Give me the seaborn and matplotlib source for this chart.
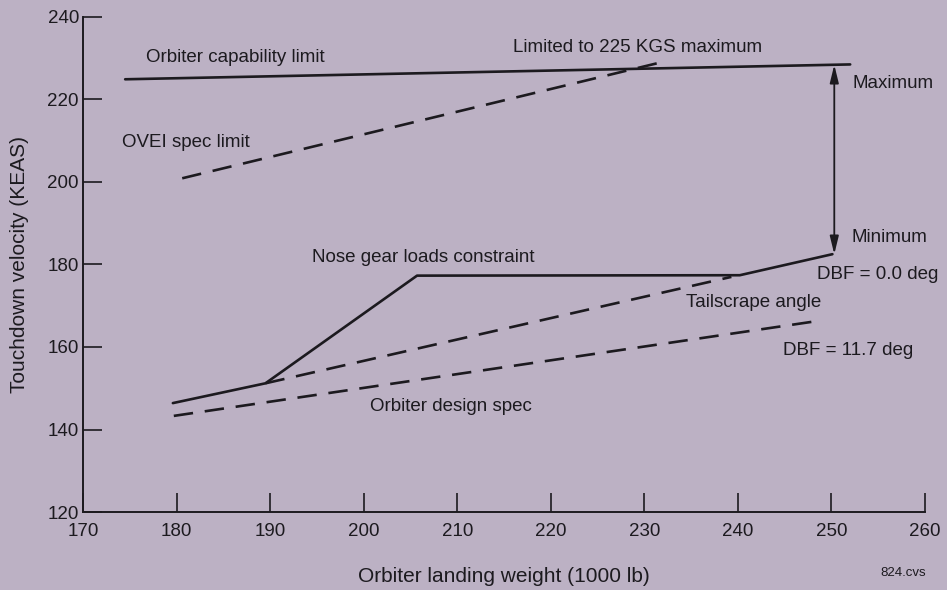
import matplotlib
matplotlib.use("Agg")
import matplotlib.pyplot as plt
import seaborn as sns
import pandas as pd

# ---- data ----
capability_x = [174.5, 252.0]
capability_y = [224.9, 228.5]

ovei_x = [180.6, 231.4]
ovei_y = [200.9, 228.8]

nose_x = [179.6, 189.5, 205.7, 240.2, 250.1]
nose_y = [146.4, 151.2, 177.3, 177.4, 182.5]

tail_dbf0_x = [189.5, 239.3]
tail_dbf0_y = [151.2, 177.0]

design_x = [179.7, 247.9]
design_y = [143.3, 166.1]

arrow_x = 250.3
arrow_top = 228.4
arrow_bottom = 182.5

x_ticks = [170, 180, 190, 200, 210, 220, 230, 240, 250, 260]
y_ticks = [120, 140, 160, 180, 200, 220, 240]

labels = [
    ("Orbiter capability limit", 176.7, 229.0),
    ("Limited to 225 KGS maximum", 216.0, 231.4),
    ("Maximum", 252.3, 222.7),
    ("OVEI spec limit", 174.2, 208.4),
    ("Minimum", 252.1, 185.5),
    ("Nose gear loads constraint", 194.5, 180.7),
    ("DBF = 0.0 deg", 248.5, 176.4),
    ("Tailscrape angle", 234.4, 169.6),
    ("DBF = 11.7 deg", 244.8, 158.1),
    ("Orbiter design spec", 200.7, 144.5),
]

BG = "#bcb1c4"
INK = "#1c1a1f"

sns.set_theme(style="ticks")
plt.rcParams["font.family"] = ["Liberation Sans", "DejaVu Sans"]
plt.rcParams["lines.scale_dashes"] = False

fig = plt.figure(figsize=(9.47, 5.9), dpi=100, facecolor=BG)
ax = fig.add_axes([0.0877, 0.1322, 0.8891, 0.8390])
ax.set_facecolor(BG)

dash = (0, (14, 8.5))

def draw(xs, ys, ls):
    df = pd.DataFrame({"x": xs, "y": ys})
    sns.lineplot(data=df, x="x", y="y", ax=ax, color=INK, linewidth=1.9,
                 linestyle=ls, sort=False, estimator=None)

draw(capability_x, capability_y, "-")
draw(ovei_x, ovei_y, dash)
draw(tail_dbf0_x, tail_dbf0_y, dash)
draw(design_x, design_y, dash)
draw(nose_x, nose_y, "-")

ax.annotate("", xy=(arrow_x, arrow_top), xytext=(arrow_x, arrow_bottom),
            arrowprops=dict(arrowstyle="<|-|>,head_length=0.9,head_width=0.22",
                            color=INK, lw=1.3, shrinkA=0, shrinkB=0))

for txt, x, y in labels:
    ax.text(x, y, txt, fontsize=13.5, color=INK, ha="left", va="baseline")

ax.set_xlim(170, 260)
ax.set_ylim(120, 240)
ax.set_xticks(x_ticks)
ax.set_yticks(y_ticks)
ax.tick_params(axis="both", direction="in", length=14, width=1.2,
               colors=INK, labelsize=13.5)
ax.tick_params(axis="y", pad=3)
ax.tick_params(axis="x", pad=8)
for s in ["top", "right"]:
    ax.spines[s].set_visible(False)
for s in ["left", "bottom"]:
    ax.spines[s].set_color(INK)
    ax.spines[s].set_linewidth(1.4)

ax.set_xlabel("Orbiter landing weight (1000 lb)", fontsize=15, color=INK, labelpad=19)
ax.set_ylabel("Touchdown velocity (KEAS)", fontsize=15, color=INK, labelpad=13)
ax.grid(False)

fig.text(0.978, 0.018, "824.cvs", fontsize=9.5, color=INK, ha="right", va="bottom")

fig.savefig("out.png", dpi=100, facecolor=BG)
